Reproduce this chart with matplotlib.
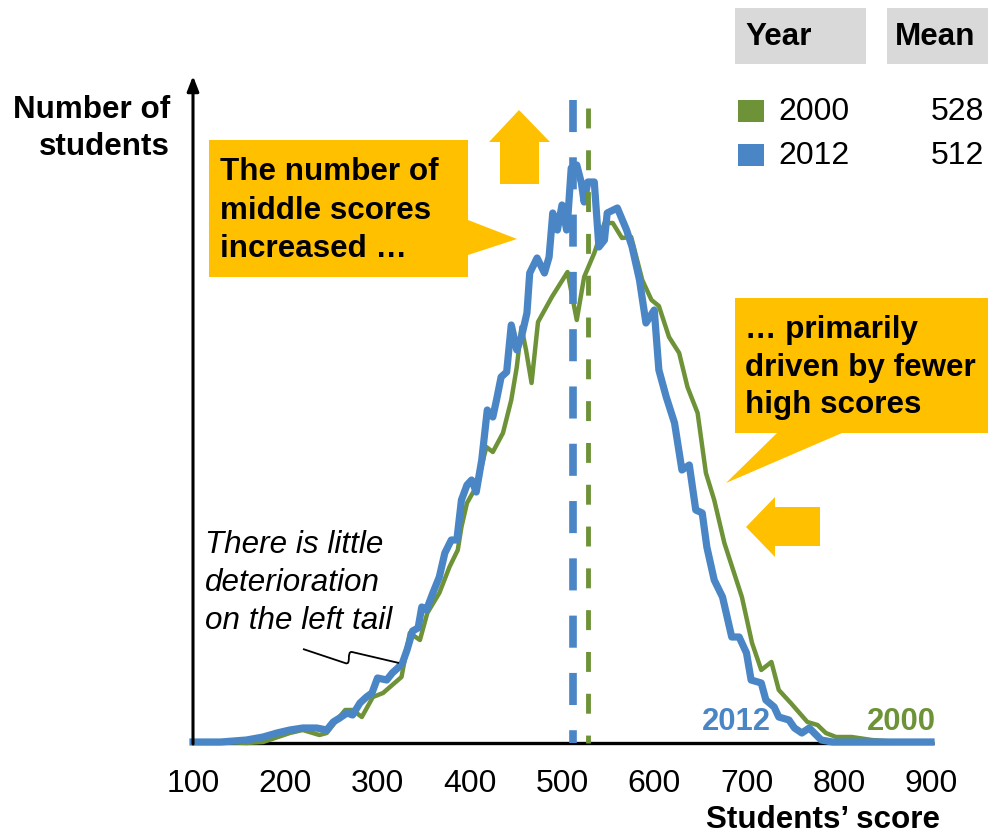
import matplotlib
matplotlib.use("Agg")
import matplotlib.pyplot as plt
from matplotlib.patches import Polygon, Rectangle, PathPatch
from matplotlib.path import Path

plt.rcParams['font.family'] = ['Liberation Sans', 'DejaVu Sans']

# Score distributions (number of students per score bin, arbitrary units)
scores_2012 = [100, 130, 158, 176, 191, 205, 219, 234, 245, 252, 259, 267, 273, 281, 288,
               294, 300, 310, 316, 322, 327, 332, 338, 344, 348, 353, 360, 367, 373, 380,
               386, 391, 397, 402, 407, 413, 419, 425, 429, 434, 440, 445, 451, 456, 462,
               465, 473, 481, 486, 490, 495, 500, 505, 506, 510, 516, 521, 524, 528, 535,
               540, 546, 549, 560, 570, 576, 584, 591, 600, 605, 613, 622, 630, 638, 645,
               652, 657, 665, 674, 684, 692, 700, 705, 716, 721, 730, 735, 746, 752, 760,
               768, 781, 793, 830, 900]
counts_2012 = [1, 1, 3, 6, 10, 13, 15, 15, 13, 21, 25, 30, 28, 40, 46,
               50, 65, 63, 70, 75, 80, 93, 112, 115, 136, 133, 150, 166, 190, 203,
               203, 243, 258, 263, 251, 283, 333, 326, 343, 366, 371, 418, 393, 406, 430,
               470, 485, 470, 486, 530, 513, 538, 513, 521, 575, 578, 560, 541, 561, 561,
               496, 503, 530, 535, 513, 496, 463, 420, 433, 373, 346, 320, 273, 278, 233,
               230, 196, 163, 146, 106, 106, 90, 63, 60, 43, 36, 26, 23, 15, 10,
               15, 3, 1, 1, 1]

scores_2000 = [100, 130, 158, 176, 205, 219, 237, 245, 256, 265, 273, 283, 295, 306, 326,
               335, 346, 354, 367, 378, 387, 391, 397, 405, 411, 418, 425, 436, 445, 451,
               456, 461, 467, 474, 489, 506, 516, 524, 535, 546, 555, 565, 575, 587, 597,
               605, 616, 627, 636, 647, 656, 665, 676, 695, 706, 716, 727, 735, 748, 766,
               777, 786, 797, 814, 836, 865, 900]
counts_2000 = [1, 1, 0, 1, 10, 13, 8, 10, 23, 33, 33, 26, 46, 50, 66,
               110, 103, 130, 150, 176, 193, 216, 240, 253, 270, 296, 291, 310, 343, 376,
               416, 393, 360, 421, 446, 471, 423, 466, 490, 520, 520, 505, 506, 463, 443,
               437, 406, 390, 356, 330, 270, 243, 200, 146, 100, 73, 81, 53, 40, 21,
               18, 10, 6, 6, 3, 1, 1]

years = ["2000", "2012"]
means = [528, 512]
tick_values = [100, 200, 300, 400, 500, 600, 700, 800, 900]
tick_labels = [str(v) for v in tick_values]

BLUE = "#4A86C6"
GREEN = "#6E9238"
ORANGE = "#FFC000"
GREY = "#D9D9D9"
FS = 22.6

W, H = 988, 838
fig = plt.figure(figsize=(W / 100, H / 100), dpi=100)
fig.patch.set_facecolor("white")

# main plotting area
ax = fig.add_axes([193 / W, (H - 743) / H, (931 - 193) / W, (743 - 78) / H])
ax.set_xlim(100, 900)
ax.set_ylim(0, 665)
for s in ax.spines.values():
    s.set_visible(False)
ax.set_yticks([])
ax.set_xticks(tick_values)
ax.set_xticklabels(tick_labels, fontsize=23)
ax.tick_params(axis="x", length=0, pad=19)

# baseline
ax.plot([100, 903], [0, 0], color="black", lw=2.4, clip_on=False, zorder=1,
        solid_capstyle="butt")

# distributions
ax.plot(scores_2000, counts_2000, color=GREEN, lw=3.2, clip_on=False, zorder=3,
        solid_joinstyle="round")
ax.plot(scores_2012, counts_2012, color=BLUE, lw=5.2, clip_on=False, zorder=4,
        solid_joinstyle="round")

# mean markers
ax.plot([means[1], means[1]], [643, 0], color=BLUE, lw=5.5, dashes=(4.2, 3.3),
        dash_capstyle="butt", zorder=5, clip_on=False)
ax.plot([means[0], means[0]], [635, 0], color=GREEN, lw=3.5, dashes=(4.1, 4.5),
        dash_capstyle="butt", zorder=5, clip_on=False)

# overlay in pixel coordinates for annotations
ov = fig.add_axes([0, 0, 1, 1], facecolor="none")
ov.set_xlim(0, W)
ov.set_ylim(H, 0)
ov.axis("off")

# y axis with arrow head
ov.annotate("", xy=(193, 76), xytext=(193, 744),
            arrowprops=dict(arrowstyle="-|>,head_length=0.9,head_width=0.35",
                            color="black", lw=2.2, shrinkA=0, shrinkB=0))

ov.text(170, 110, "Number of", ha="right", va="center", fontsize=FS, fontweight="bold")
ov.text(170, 147, "students", ha="right", va="center", fontsize=FS, fontweight="bold")
ov.text(940, 820, "Students\u2019 score", ha="right", va="center", fontsize=FS,
        fontweight="bold")

# legend table
ov.add_patch(Rectangle((735, 8), 131, 56, color=GREY, lw=0))
ov.add_patch(Rectangle((887, 8), 101, 56, color=GREY, lw=0))
ov.text(745, 37, "Year", ha="left", va="center", fontsize=FS, fontweight="bold")
ov.text(895, 37, "Mean", ha="left", va="center", fontsize=FS, fontweight="bold")
for (yr, mn, col, yc) in [(years[0], means[0], GREEN, 112), (years[1], means[1], BLUE, 156)]:
    ov.add_patch(Rectangle((738, yc - 12), 26, 22, color=col, lw=0))
    ov.text(778, yc, yr, ha="left", va="center", fontsize=23)
    ov.text(984, yc, str(mn), ha="right", va="center", fontsize=23)

# callout: middle scores
ov.add_patch(Polygon([(209, 140), (468, 140), (468, 220), (517, 239), (468, 255),
                      (468, 277), (209, 277)], closed=True, color=ORANGE, lw=0))
for txt, yc in [("The number of", 172), ("middle scores", 211), ("increased \u2026", 249)]:
    ov.text(220, yc, txt, ha="left", va="center", fontsize=FS, fontweight="bold")

# up arrow
ov.add_patch(Polygon([(500, 184), (500, 142), (489, 142), (519, 110), (550, 142),
                      (539, 142), (539, 184)], closed=True, color=ORANGE, lw=0))

# callout: high scores
ov.add_patch(Polygon([(735, 298), (988, 298), (988, 433), (842, 433), (726, 483),
                      (777, 433), (735, 433)], closed=True, color=ORANGE, lw=0))
for txt, yc in [("\u2026 primarily", 330), ("driven by fewer", 368), ("high scores", 405)]:
    ov.text(745, yc, txt, ha="left", va="center", fontsize=FS, fontweight="bold")

# left arrow
ov.add_patch(Polygon([(820, 507), (775, 507), (775, 497), (746, 527), (775, 557),
                      (775, 546), (820, 546)], closed=True, color=ORANGE, lw=0))

# left tail note
for txt, yc in [("There is little", 545), ("deterioration", 583), ("on the left tail", 621)]:
    ov.text(205, yc, txt, ha="left", va="center", fontsize=FS, fontstyle="italic")
squiggle = Path([(303, 649), (345, 663), (352, 666), (346, 651), (352, 652), (399, 663)],
                [Path.MOVETO, Path.LINETO, Path.CURVE4, Path.CURVE4, Path.CURVE4, Path.LINETO])
ov.add_patch(PathPatch(squiggle, fill=False, color="black", lw=1.3))

# series labels
ov.text(736, 722, years[1], ha="center", va="center", fontsize=22.3, fontweight="bold",
        color=BLUE)
ov.text(901, 722, years[0], ha="center", va="center", fontsize=22.3, fontweight="bold",
        color=GREEN)

fig.savefig("out.png", dpi=100)
